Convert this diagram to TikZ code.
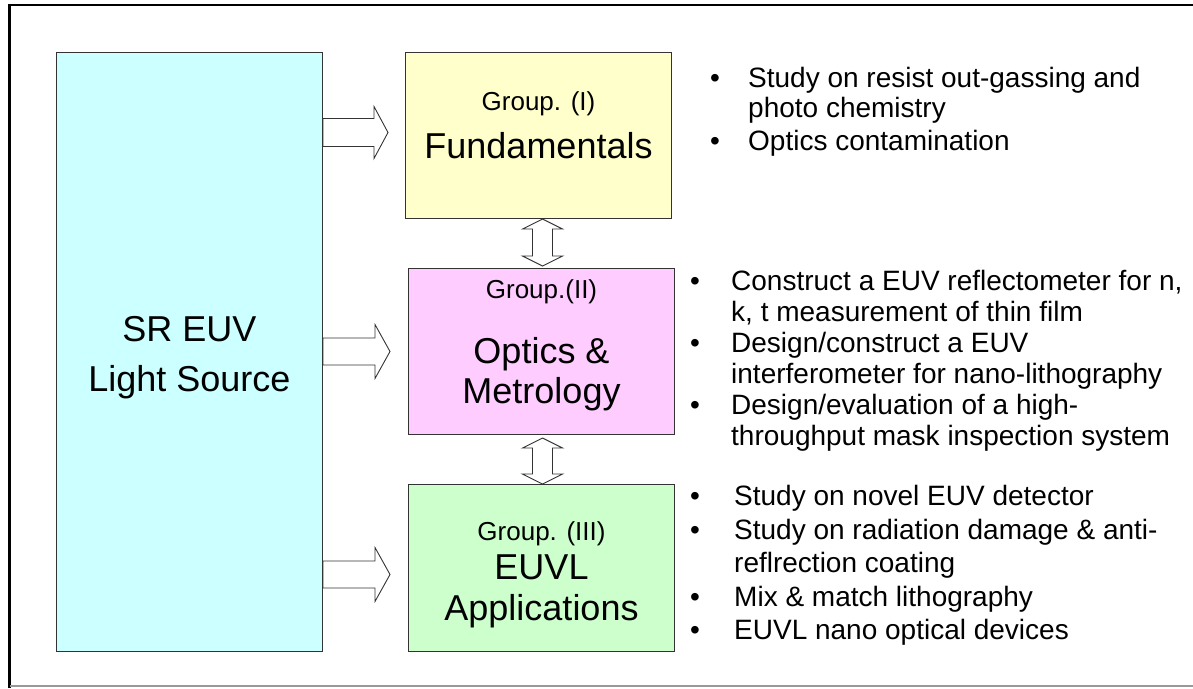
\documentclass[tikz,border=0pt]{standalone}
\usepackage{fontspec}
\setmainfont{Liberation Sans}
\usetikzlibrary{calc}
\definecolor{srblue}{HTML}{CCFFFF}
\definecolor{gyellow}{HTML}{FFFFCC}
\definecolor{gpink}{HTML}{FFCCFF}
\definecolor{ggreen}{HTML}{CCFFCC}
\definecolor{edge}{HTML}{333333}
\tikzset{
  box/.style={draw=edge, line width=1pt, inner sep=0pt, anchor=north west},
  blockarrow/.style={draw=edge, line width=0.9pt, fill=white, line join=miter},
  bigtxt/.style={font=\fontsize{36}{40}\selectfont, inner sep=0pt, anchor=base},
  grptxt/.style={font=\fontsize{26}{30}\selectfont, inner sep=0pt, anchor=base},
  itemtxt/.style={font=\fontsize{28}{33}\selectfont, inner sep=0pt, anchor=base west},
  dot/.style={font=\fontsize{28}{33}\selectfont, inner sep=0pt, anchor=base west},
}
\begin{document}
\begin{tikzpicture}[x=1pt,y=-1pt]
\useasboundingbox (0,0) rectangle (1193,688);
% frame
\draw[black, line width=2.5pt] (9.5,688) -- (9.5,5) -- (1193,5);
\draw[gray!80, line width=1.5pt] (9.5,686) -- (1193,686);
% boxes
\node[box, fill=srblue, minimum width=266pt, minimum height=599pt] (src) at (56,52) {};
\node[box, fill=gyellow, minimum width=266pt, minimum height=166pt] (g1) at (405,52) {};
\node[box, fill=gpink, minimum width=266pt, minimum height=166pt] (g2) at (408,268) {};
\node[box, fill=ggreen, minimum width=266pt, minimum height=167pt] (g3) at (408,484) {};
% source text
\node[bigtxt] (s1) at ($(src.center)+(0,-11)$) {SR EUV};
\node[bigtxt] (s2) at ($(src.center)+(0,39)$) {Light Source};
% group texts
\node[grptxt] (g1a) at ($(g1.north)+(0,58)$) {Group. (I)};
\node[bigtxt] (g1b) at ($(g1.north)+(0,106)$) {Fundamentals};
\node[grptxt] (g2a) at ($(g2.north)+(0,30)$) {Group.(II)};
\node[bigtxt] (g2b) at ($(g2.north)+(0,95)$) {Optics \&};
\node[bigtxt] (g2c) at ($(g2.north)+(0,135)$) {Metrology};
\node[grptxt] (g3a) at ($(g3.north)+(0,56)$) {Group. (III)};
\node[bigtxt] (g3b) at ($(g3.north)+(0,95)$) {EUVL};
\node[bigtxt] (g3c) at ($(g3.north)+(0,136)$) {Applications};
% right block arrows
\draw[blockarrow] ($(src.east |- g1.west)+(0,-3)$) ++(0,14) -- ++(51,0) -- ++(0,12) -- ++(14,-26) -- ++(-14,-26) -- ++(0,12) -- ++(-51,0) -- cycle;
\draw[blockarrow] (src.east |- g2.west) ++(0,13.5) -- ++(52,0) -- ++(0,13.5) -- ++(15,-27) -- ++(-15,-27) -- ++(0,13.5) -- ++(-52,0) -- cycle;
\draw[blockarrow] ($(src.east |- g3.west)+(0,6.5)$) ++(0,13.5) -- ++(52,0) -- ++(0,13.5) -- ++(15,-27) -- ++(-15,-27) -- ++(0,13.5) -- ++(-52,0) -- cycle;
% double arrows
\draw[blockarrow] ($(g1.south)+(4,0)$) -- ++(20,10) -- ++(-10,0) -- ++(0,27) -- ++(10,0) -- ++(-20,10) -- ++(-20,-10) -- ++(10,0) -- ++(0,-27) -- ++(-10,0) -- cycle;
\draw[blockarrow] ($(g2.south)+(1,3)$) -- ++(20,10) -- ++(-10,0) -- ++(0,26) -- ++(10,0) -- ++(-20,10) -- ++(-20,-10) -- ++(10,0) -- ++(0,-26) -- ++(-10,0) -- cycle;
% group I items
\node[dot] (b11) at (710,87) {•};
\node[itemtxt] (t11) at (748,87) {Study on resist out-gassing and};
\node[itemtxt] (t12) at (748,117) {photo chemistry};
\node[dot] (b12) at (710,150) {•};
\node[itemtxt] (t13) at (748,150) {Optics contamination};
% group II items
\node[dot] (b21) at (690,290) {•};
\node[itemtxt] (t21) at (731,290) {Construct a EUV reflectometer for n,};
\node[itemtxt] (t22) at (731,321) {k, t measurement of thin film};
\node[dot] (b22) at (690,352) {•};
\node[itemtxt] (t23) at (731,352) {Design/construct a EUV};
\node[itemtxt] (t24) at (731,383) {interferometer for nano-lithography};
\node[dot] (b23) at (690,414) {•};
\node[itemtxt] (t25) at (731,414) {Design/evaluation of a high-};
\node[itemtxt] (t26) at (731,445) {throughput mask inspection system};
% group III items
\node[dot] (b31) at (690,505) {•};
\node[itemtxt] (t31) at (734,505) {Study on novel EUV detector};
\node[dot] (b32) at (690,539) {•};
\node[itemtxt] (t32) at (734,539) {Study on radiation damage \& anti-};
\node[itemtxt] (t33) at (734,572) {reflrection coating};
\node[dot] (b33) at (690,606) {•};
\node[itemtxt] (t34) at (734,606) {Mix \& match lithography};
\node[dot] (b34) at (690,639) {•};
\node[itemtxt] (t35) at (734,639) {EUVL nano optical devices};
\end{tikzpicture}
\end{document}
